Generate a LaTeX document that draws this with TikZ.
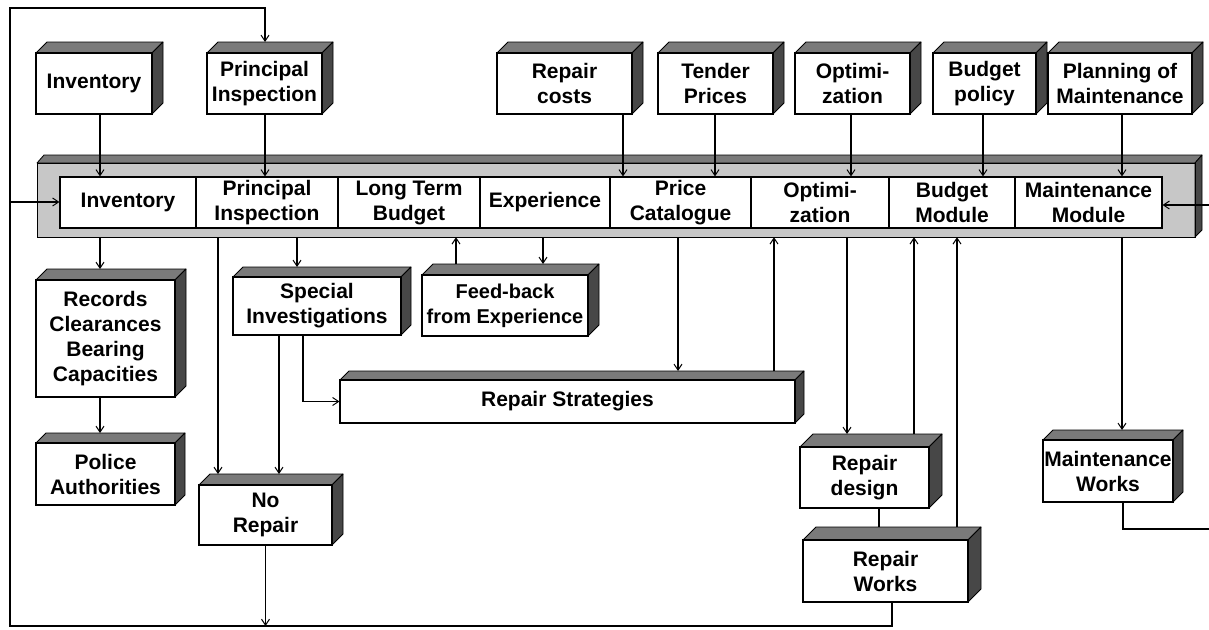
\documentclass[tikz,border=0pt]{standalone}
\usepackage{fontspec}
\setmainfont{Liberation Sans}
\usetikzlibrary{arrows.meta,fit}
\tikzset{
  ln/.style={line width=1.2pt, draw=black},
  arr/.style={ln, -{Straight Barb[length=6pt,width=8pt,line width=1pt]}},
  topface/.style={fill=black!52, draw=black, line width=0.8pt, line join=round},
  sideface/.style={fill=black!72, draw=black, line width=0.8pt, line join=round},
  front/.style={inner sep=0pt, draw=black, fill=white, line width=1.1pt},
  txt/.style={inner sep=0pt, align=center, font=\fontsize{21pt}{25pt}\selectfont\bfseries},
}
% name, x1, y1, x2, y2, depth, text
\newcommand\cbox[7]{%
  \path[topface] (#2,#3) -- (#2+#6,#3-#6) -- (#4+#6,#3-#6) -- (#4,#3) -- cycle;
  \path[sideface] (#4,#3) -- (#4+#6,#3-#6) -- (#4+#6,#5-#6) -- (#4,#5) -- cycle;
  \node[front, fit={(#2,#3)(#4,#5)}] (#1) {};
  \node[txt] (#1-t) at (#1.center) {#7};
  \coordinate (#1-top) at (#2,#3-#6);
}
% name, x1, x2, text
\newcommand\bcell[4]{%
  \node[front, fit={(#2,177)(#3,228)}] (#1) {};
  \node[txt] (#1-t) at (#1.center) {#4};
}
\newcommand\vc[4]{\draw[#1] (#2,0 |- #3) -- (#2,0 |- #4);}
\begin{document}
\begin{tikzpicture}[x=1pt,y=-1pt]
\useasboundingbox (0,0) rectangle (1209,629);
% main bar
\path[fill=black!22] (37,163) rectangle (1195,237);
\path[topface] (37,163) -- (44,155) -- (1202,155) -- (1195,163) -- cycle;
\path[sideface] (1195,163) -- (1202,155) -- (1202,230) -- (1195,237) -- cycle;
\draw[line width=0.8pt] (37,163) rectangle (1195,237);
\node[inner sep=0pt, fit={(37,155)(1202,237)}] (bar) {};
\bcell{c1}{60}{196}{Inventory}
\bcell{c2}{196}{338}{Principal\\Inspection}
\bcell{c3}{338}{480}{Long Term\\Budget}
\bcell{c4}{480}{610}{Experience}
\bcell{c5}{610}{751}{Price\\Catalogue}
\bcell{c6}{751}{889}{Optimi-\\zation}
\bcell{c7}{889}{1015}{Budget\\Module}
\bcell{c8}{1015}{1162}{Maintenance\\Module}
% top boxes
\cbox{tInv}{36}{53}{152}{114}{11}{Inventory}
\cbox{tPI}{207}{53}{322}{114}{11}{Principal\\Inspection}
\cbox{tRC}{497}{53}{632}{114}{11}{Repair\\costs}
\cbox{tTP}{658}{53}{773}{114}{11}{Tender\\Prices}
\cbox{tOpt}{795}{53}{910}{114}{11}{Optimi-\\zation}
\cbox{tBP}{933}{53}{1036}{114}{11}{Budget\\policy}
\cbox{tPM}{1048}{53}{1192}{114}{11}{Planning of\\Maintenance}
% lower boxes
\cbox{records}{36}{280}{175}{397}{11}{Records\\Clearances\\Bearing\\Capacities}
\cbox{police}{36}{443}{175}{505}{10}{Police\\Authorities}
\cbox{special}{233}{277}{401}{335}{10}{Special\\Investigations}
\cbox{norep}{199}{485}{332}{545}{11}{No\\Repair}
\cbox{fb}{422}{275}{588}{336}{11}{\fontsize{20pt}{24pt}\selectfont Feed-back\\\fontsize{20pt}{24pt}\selectfont from Experience}
\cbox{rstrat}{340}{380}{795}{423}{9}{Repair Strategies}
\cbox{rdesign}{800}{447}{929}{508}{13}{Repair\\design}
\cbox{rworks}{803}{540}{968}{602}{13}{Repair\\Works}
\cbox{mworks}{1043}{440}{1173}{502}{10}{Maintenance\\Works}
% connectors from top boxes into bar
\vc{arr}{100}{tInv.south}{c1.north}
\vc{arr}{265}{tPI.south}{c2.north}
\vc{arr}{623}{tRC.south}{c5.north}
\vc{arr}{715}{tTP.south}{c5.north}
\vc{arr}{851}{tOpt.south}{c6.north}
\vc{arr}{983}{tBP.south}{c7.north}
\vc{arr}{1122}{tPM.south}{c8.north}
% connectors below bar
\vc{arr}{100}{bar.south}{records-top}
\vc{arr}{100}{records.south}{police-top}
\vc{arr}{218}{bar.south}{norep-top}
\vc{arr}{297}{bar.south}{special-top}
\vc{arr}{279}{special.south}{norep-top}
\draw[arr] (303,0 |- special.south) |- (rstrat.west);
\vc{arr}{456}{fb-top}{bar.south}
\vc{arr}{543}{bar.south}{fb-top}
\vc{arr}{678}{bar.south}{rstrat-top}
\vc{arr}{774}{rstrat-top}{bar.south}
\vc{arr}{847}{bar.south}{rdesign-top}
\vc{arr}{914}{rdesign-top}{bar.south}
\vc{arr}{957}{rworks-top}{bar.south}
\vc{ln}{879}{rdesign.south}{rworks-top}
\vc{arr}{1122}{bar.south}{mworks-top}
% feedback loop
\coordinate (bl) at (10,626);
\coordinate (tl) at (10,8);
\coordinate (lj) at (10,202);
\coordinate (rj) at (1209,205);
\coordinate (rb) at (1209,529);
\draw[arr] (892,0 |- rworks.south) |- (bl) -- (tl) -| (265,0 |- tPI-top);
\draw[arr] (norep.south) -- (norep.south |- bl);
\draw[arr] (lj) -- (lj -| c1.west);
\draw[ln] (1123,0 |- mworks.south) |- (rb);
\draw[arr] (rj) -- (rj -| c8.east);
\end{tikzpicture}
\end{document}
